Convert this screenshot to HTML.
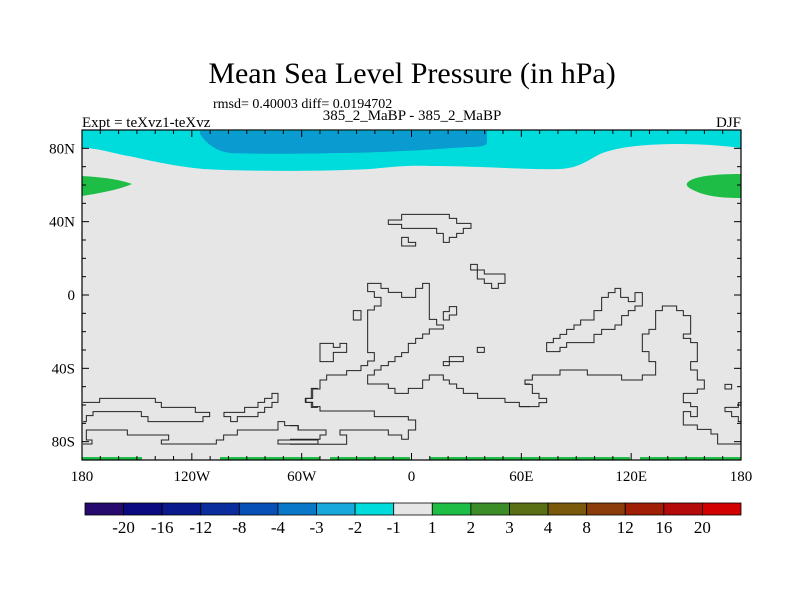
<!DOCTYPE html>
<html><head><meta charset="utf-8">
<style>
body{margin:0;background:#fff;}
svg{display:block;font-family:"Liberation Serif",serif;}
</style></head>
<body>
<svg id="chart" width="800" height="600" viewBox="0 0 800 600" xmlns="http://www.w3.org/2000/svg">
<text x="412" y="83" font-size="30" text-anchor="middle">Mean Sea Level Pressure (in hPa)</text>
<text x="213" y="108" font-size="14">rmsd= 0.40003 diff= 0.0194702</text>
<text x="412" y="120" font-size="15" text-anchor="middle">385_2_MaBP - 385_2_MaBP</text>
<text x="82" y="127" font-size="15">Expt = teXvz1-teXvz</text>
<text x="741" y="127" font-size="15" text-anchor="end">DJF</text>
<g id="plot">
  <rect x="82" y="130" width="659" height="330" fill="#e6e6e6"/>
  <path fill="#00dcdc" d="M82,130 H741 V148 C725,146 705,144 680,144 C650,144 620,146 600,154 C585,162 578,168 560,169 C530,170 480,166 430,166 C400,165 385,168 370,169 C330,171 260,172 203,169 C170,166 140,158 123,155 C105,151 95,148 82,148 Z"/>
  <path fill="#0a9bd0" d="M200,131 H487 V142 C487,146 480,147 470,147 C420,150 400,152 340,153 C290,154 250,154 230,153 C215,151 205,142 200,134 Z"/>
  <path fill="#1ebe46" d="M82,176 C100,177 118,179 132,184 C118,190 100,193 82,196 Z"/>
  <path fill="#1ebe46" d="M741,174 V198 C725,198 712,197 700,193 C690,189 684,186 688,182 C695,176 715,174 741,174 Z"/>
  <g fill="#1ebe46">
    <rect x="82" y="457" width="60" height="3"/><rect x="220" y="457" width="100" height="3"/><rect x="330" y="457" width="80" height="3"/><rect x="430" y="457" width="200" height="3"/><rect x="640" y="457" width="101" height="3"/>
  </g>
  <g fill="none" stroke="#222" stroke-width="1">
    <g transform="translate(290,200) scale(0.3333)">
      <path vector-effect="non-scaling-stroke" d="M295,60 H335 V43 H478 V55 H500 V70 H543 V85 H520 V100 H500 V112 H478 V127 H460 V100 H440 V85 H335 V73 H295 Z"/>
      <path vector-effect="non-scaling-stroke" d="M335,112 H355 V127 H377 V138 H335 Z"/>
      <path vector-effect="non-scaling-stroke" d="M542,193 H562 V210 H583 V222 H645 V250 H625 V265 H605 V250 H583 V237 H562 V210 H542 Z"/>
      <path vector-effect="non-scaling-stroke" d="M190,332 H213 V360 H190 Z"/>
      <path vector-effect="non-scaling-stroke" d="M90,430 H130 V442 H150 V430 H170 V457 H130 V485 H90 Z"/>
      <path vector-effect="non-scaling-stroke" d="M460,335 H478 V320 H500 V345 H478 V360 H460 Z"/>
      <path vector-effect="non-scaling-stroke" d="M562,442 H583 V457 H562 Z"/>
      <path vector-effect="non-scaling-stroke" d="M460,485 H478 V470 H520 V485 H478 V497 H460 Z"/>
      <path vector-effect="non-scaling-stroke" d="M720,540 H705 V552 H720"/>
      <path vector-effect="non-scaling-stroke" d="M0,677 H25 V690 H108 V705 H90 V718 H0"/>
      <path vector-effect="non-scaling-stroke" d="M0,733 H170 V705 H150 V690 H295 V705 H335 V718 H355 V690 H377 V660 H355 V650 H253 V633 H90 V620 H68 V607 H48 V595 H68 V567 H90 V540 H110 V525 H170 V512 H213 V497 H233 V483 H253 V458 H233 V330 H253 V318 H273 V292 H253 V275 H233 V250 H273 V265 H295 V277 H335 V292 H377 V265 H398 V250 H418 V358 H440 V375 H460 V387 H418 V402 H398 V415 H377 V430 H355 V458 H335 V470 H315 V485 H295 V497 H273 V510 H253 V525 H233 V552 H295 V565 H315 V580 H355 V565 H398 V540 H418 V525 H460 V540 H478 V552 H500 V565 H520 V580 H563 V595 H645 V607 H688 V620 H720"/>
    </g>
    <g transform="translate(520,270) scale(0.3333)">
      <path vector-effect="non-scaling-stroke" d="M80,245 V218 H100 V205 H120 V193 H140 V178 H162 V165 H182 V150 H222 V122 H245 V82 H265 V68 H285 V55 H302 V82 H325 V95 H345 V68 H367 V108 H345 V122 H325 V137 H305 V165 H285 V178 H245 V193 H222 V218 H140 V232 H120 V245 Z"/>
      <path vector-effect="non-scaling-stroke" d="M0,410 H57 V398 H80 V385 H57 V370 H37 V343 H15 V330 H37 V315 H120 V300 H202 V315 H305 V330 H367 V315 H407 V275 H387 V245 H367 V192 H387 V178 H407 V122 H427 V108 H470 V122 H490 V137 H512 V192 H490 V205 H512 V218 H532 V275 H512 V300 H532 V330 H553 V357 H532 V370 H490 V398 H512 V410 H532 V440 H512 V425 H490 V465 H532 V478 H573 V492 H593 V522 H663"/>
      <path vector-effect="non-scaling-stroke" d="M615,343 H635 V357 H615 Z"/>
      <path vector-effect="non-scaling-stroke" d="M665,398 H655 V412 H615 V425 H635 V440 H655 V455 H665"/>
    </g>
    <g transform="translate(78,380) scale(0.3333)">
      <path vector-effect="non-scaling-stroke" d="M15,67 H65 V55 H232 V67 H250 V82 H352 V97 H395 V110 H375 V125 H210 V110 H190 V95 H45 V107 H25 V125 H15"/>
      <path vector-effect="non-scaling-stroke" d="M15,192 H42 V180 H25 V150 H148 V165 H272 V180 H250 V192 H415 V180 H437 V165 H478 V150 H600 V125 H620 V137 H660 V150 H720"/>
      <path vector-effect="non-scaling-stroke" d="M438,97 V110 H458 V125 H478 V110 H540 V97 H560 V82 H582 V67 H600 V40 H582 V55 H560 V67 H540 V82 H500 V97 Z"/>
      <path vector-effect="non-scaling-stroke" d="M720,25 H700 V55 H682 V67 H700 V82 H720"/>
      <path vector-effect="non-scaling-stroke" d="M600,180 H720 V192 H600 Z"/>
    </g>
  </g>
  <g id="ticks" stroke="#000" stroke-width="1"></g>
  <rect x="82" y="130" width="659" height="330" fill="none" stroke="#000" stroke-width="1.2"/>
</g>
<g id="labels" font-size="15"></g>
<g id="colorbar"></g>
</svg>
<script>
const xTickValues = [-180, -120, -60, 0, 60, 120, 180];
const xTickLabels = ["180", "120W", "60W", "0", "60E", "120E", "180"];
const yTickValues = [80, 40, 0, -40, -80];
const yTickLabels = ["80N", "40N", "0", "40S", "80S"];
const cbLabels = ["-20","-16","-12","-8","-4","-3","-2","-1","1","2","3","4","8","12","16","20"];
const cbColors = ["#260a6e","#0c0a80","#0a1a8c","#0a2c9c","#0650b8","#0a78c8","#19a8dc","#00dcdc","#e6e6e6","#1ebe46","#3c8c28","#5a6e14","#7a5a0a","#8c3c0a","#a01e05","#b40a0a","#d20000"];

const NS = "http://www.w3.org/2000/svg";
const X0 = 82, X1 = 741, Y0 = 130, Y1 = 460;
function xScale(lon){ return X0 + (lon + 180) / 360 * (X1 - X0); }
function yScale(lat){ return Y0 + (90 - lat) / 180 * (Y1 - Y0); }
function mk(tag, attrs, parent){ const e = document.createElementNS(NS, tag); for (const k in attrs) e.setAttribute(k, attrs[k]); parent.appendChild(e); return e; }

const ticks = document.getElementById('ticks');
for (let lon = -180; lon <= 180; lon += 10) {
  const major = lon % 60 === 0; const len = major ? 7 : 4; const x = xScale(lon);
  const t1 = mk('line', {x1:x, x2:x, y1:Y1, y2:Y1 - len}, ticks);
  
  
  const t2 = mk('line', {x1:x, x2:x, y1:Y0, y2:Y0 + len}, ticks);
  
  
}
for (let lat = -90; lat <= 90; lat += 10) {
  const major = lat % 40 === 0; const len = major ? 7 : 4; const y = yScale(lat);
  const t1 = mk('line', {x1:X0, x2:X0 + len, y1:y, y2:y}, ticks);
  
  
  const t2 = mk('line', {x1:X1, x2:X1 - len, y1:y, y2:y}, ticks);
  
  
}
const labels = document.getElementById('labels');
xTickValues.forEach((v, i) => {
  const t = mk('text', {x:xScale(v), y:481, 'text-anchor':'middle'}, labels);
  t.textContent = xTickLabels[i];
  
  
});
yTickValues.forEach((v, i) => {
  const t = mk('text', {x:75, y:yScale(v) + 5, 'text-anchor':'end'}, labels);
  t.textContent = yTickLabels[i];
  
  
});
const cb = document.getElementById('colorbar');
const CB0 = 85, CB1 = 741, CBY = 503, CBH = 12;
const bw = (CB1 - CB0) / cbColors.length;
cbColors.forEach((c, i) => {
  const r = mk('rect', {x:CB0 + i*bw, y:CBY, width:bw, height:CBH, fill:c, stroke:'#000', 'stroke-width':0.8}, cb);
  
  
});
cbLabels.forEach((l, i) => {
  const t = mk('text', {x:CB0 + (i+1)*bw, y:533, 'text-anchor':'middle', 'font-size':17}, cb);
  t.textContent = l;
  
  
});
</script>
</body></html>
